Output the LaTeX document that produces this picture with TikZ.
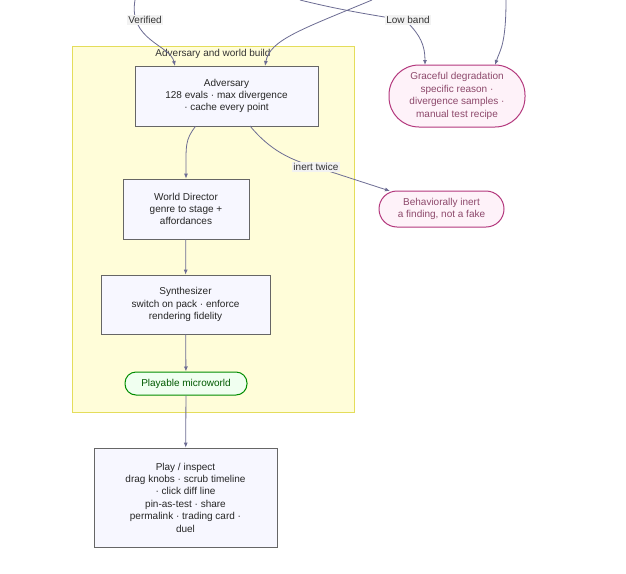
\documentclass[tikz,border=0pt]{standalone}
\usepackage{fontspec}
\setmainfont{Liberation Sans}
\begin{document}
\begin{tikzpicture}[x=1pt,y=-1pt,font=\fontsize{10}{12.4}\selectfont,
 box/.style={draw=black!60,fill=blue!3!white,align=center,inner sep=0pt,line width=0.8pt,text=black!85},
 pill/.style={draw=#1,rounded corners=11pt,align=center,inner sep=0pt,line width=1pt},
 edge/.style={draw=gray!85!blue,line width=0.8pt,-{Latex[length=5pt,width=4pt]}},
 lbl/.style={fill=gray!10,inner sep=1.5pt,text=black!80}]
\usetikzlibrary{arrows.meta}
\useasboundingbox (0,0) rectangle (626,573);
\fill[white] (0,0) rectangle (626,573);
\draw[fill=yellow!15,draw=yellow!60!olive!60] (72,46) rectangle (354,412);
\node[text=black!80] (ct) at (213,54) {Adversary and world build};
\node[box,minimum width=183,minimum height=60] (adv) at (226.5,96) {Adversary\\128 evals · max divergence\\· cache every point};
\node[box,minimum width=126,minimum height=60] (wd) at (186,209) {World Director\\genre to stage +\\affordances};
\node[box,minimum width=169,minimum height=59] (syn) at (185.5,304.5) {Synthesizer\\switch on pack · enforce\\rendering fidelity};
\node[pill=green!55!black,fill=green!6,minimum width=122,minimum height=23,text=green!35!black] (pm) at (186,383.5) {Playable microworld};
\node[box,minimum width=183,minimum height=99] (pi) at (185.5,497.5) {Play / inspect\\drag knobs · scrub timeline\\· click diff line\\pin-as-test · share\\permalink · trading card ·\\duel};
\node[pill=magenta!70!black,fill=magenta!5,rounded corners=30pt,minimum width=136,minimum height=62,text=magenta!50!black] (gd) at (457,96) {Graceful degradation\\specific reason ·\\divergence samples ·\\manual test recipe};
\node[pill=magenta!70!black,fill=magenta!5,rounded corners=18pt,minimum width=125,minimum height=36,text=magenta!50!black] (bi) at (441.5,209) {Behaviorally inert\\a finding, not a fake};
\coordinate (t1) at (135,0);
\coordinate (t2) at (372,0);
\coordinate (t3) at (300,0);
\coordinate (t4) at (506,0);
\draw[edge] (t1) .. controls (128,40) and (170,45) .. (175,66);
\node[lbl] (l1) at (145,20) {Verified};
\draw[edge] (t2) .. controls (300,30) and (270,40) .. (265,66);
\draw[edge] (t3) .. controls (360,15) and (400,18) .. (407,22) .. controls (420,35) and (425,45) .. (425,65);
\node[lbl] (l2) at (408,20) {Low band};
\draw[edge] (t4) .. controls (506,45) and (500,50) .. (495,65);
\draw[edge] (adv.south) ++(-31,0) .. controls (185,140) and (186,145) .. (wd.north);
\draw[edge] (wd) -- (syn);
\draw[edge] (syn) -- (pm);
\draw[edge] (pm) -- (pi);
\draw[edge] (250,126) .. controls (270,150) and (290,160) .. (316,167) -- (390,191);
\node[lbl] (l3) at (316,167) {inert twice};
\end{tikzpicture}
\end{document}
